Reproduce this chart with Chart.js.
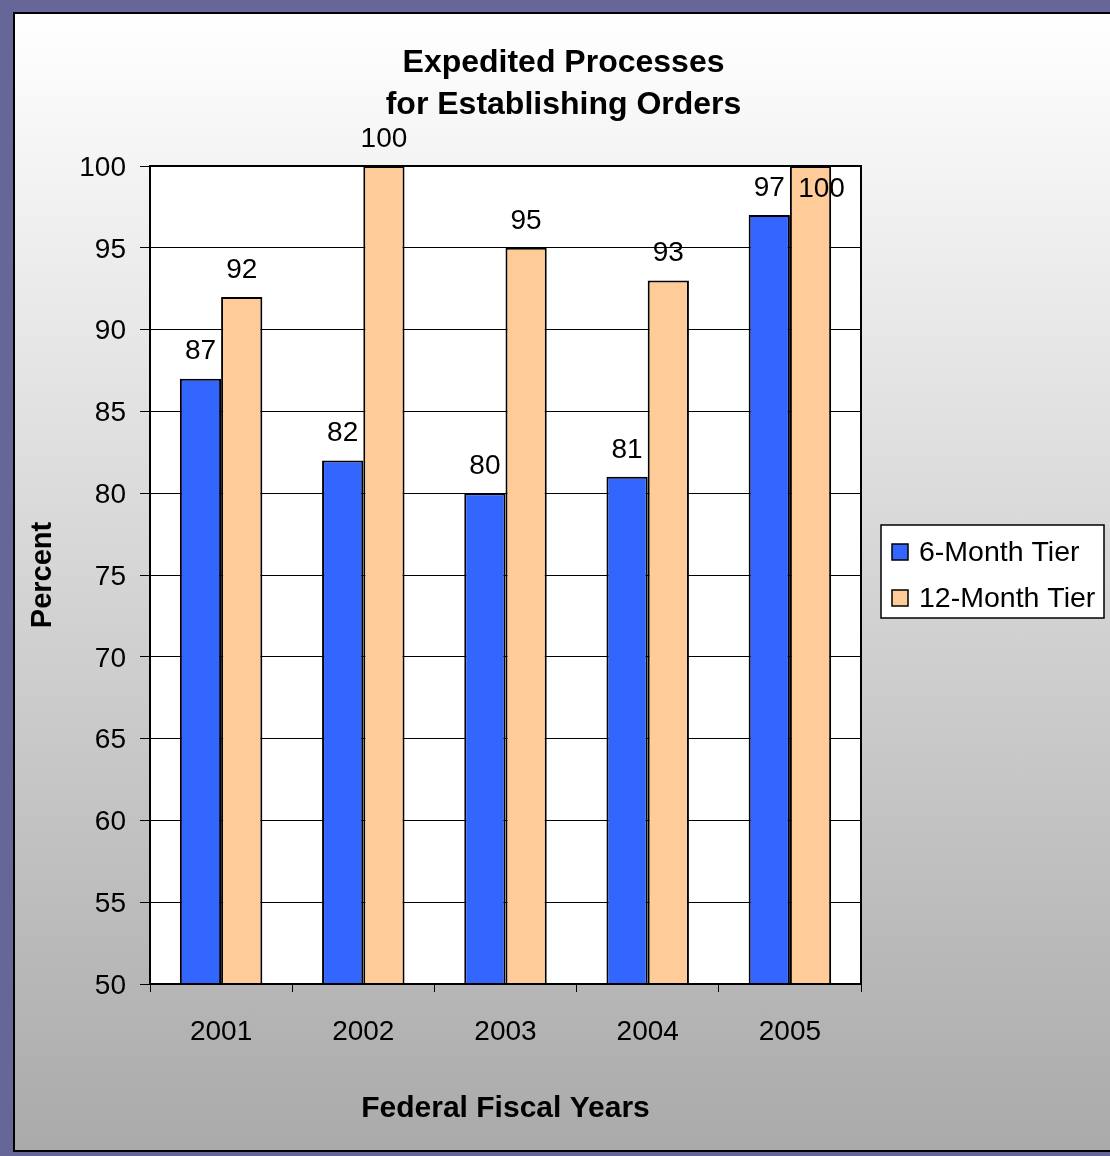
<!DOCTYPE html>
<html>
<head>
<title>Expedited Processes for Establishing Orders</title>
<script src="https://cdn.jsdelivr.net/npm/chart.js"></script>
<style>
  body { margin: 0; background: #666699; }
  #frame {
    position: absolute; left: 13px; top: 12px;
    width: 1097px; height: 1136px;
    border: 2px solid #000; border-right: none;
    background: linear-gradient(#ffffff, #aaaaaa);
  }
  canvas { display: block; }
</style>
</head>
<body>
<div id="frame">
  <canvas id="myChart" width="1097" height="1136"></canvas>
</div>
<script>
const years = ['2001', '2002', '2003', '2004', '2005'];
const sixMonthTier = [87, 82, 80, 81, 97];
const twelveMonthTier = [92, 100, 95, 93, 100];
const percentTicks = [50, 55, 60, 65, 70, 75, 80, 85, 90, 95, 100];
const titleLines = ['Expedited Processes', 'for Establishing Orders'];

Chart.defaults.font.family = '"Liberation Sans", Arial, sans-serif';
Chart.defaults.color = '#000';

// white plot background and the frame around it
const plotFrame = {
  id: 'plotFrame',
  beforeDraw(chart) {
    const {ctx, chartArea: a} = chart;
    ctx.save();
    ctx.fillStyle = '#fff';
    ctx.fillRect(a.left, a.top, a.right - a.left, a.bottom - a.top);
    ctx.restore();
  },
  afterDatasetsDraw(chart) {
    const {ctx, chartArea: a} = chart;
    ctx.save();
    ctx.strokeStyle = '#000';
    ctx.lineWidth = 2;
    ctx.strokeRect(a.left, a.top, a.right - a.left, a.bottom - a.top);
    ctx.restore();
  }
};

// two-line title centred across the whole canvas
const wideTitle = {
  id: 'wideTitle',
  afterDraw(chart) {
    const ctx = chart.ctx;
    ctx.save();
    ctx.font = 'bold 32px "Liberation Sans", Arial, sans-serif';
    ctx.fillStyle = '#000';
    ctx.textAlign = 'center';
    ctx.textBaseline = 'middle';
    titleLines.forEach((line, i) => ctx.fillText(line, chart.width / 2, 49 + i * 42));
    ctx.restore();
  }
};

// value labels above each bar (last peach label sits beside the 97)
const valueLabels = {
  id: 'valueLabels',
  afterDatasetsDraw(chart) {
    const ctx = chart.ctx;
    ctx.save();
    ctx.font = '28px "Liberation Sans", Arial, sans-serif';
    ctx.fillStyle = '#000';
    ctx.textAlign = 'center';
    ctx.textBaseline = 'middle';
    chart.data.datasets.forEach((ds, di) => {
      chart.getDatasetMeta(di).data.forEach((bar, i) => {
        let x = bar.x, y = bar.y - 27;
        if (di === 1 && i === ds.data.length - 1) { x += 11; y += 50; }
        ctx.fillText(String(ds.data[i]), x, y);
      });
    });
    ctx.restore();
  }
};

// boxed legend to the right of the plot
const boxLegend = {
  id: 'boxLegend',
  afterDraw(chart) {
    const ctx = chart.ctx;
    const a = chart.chartArea;
    const left = a.right + 20, top = 511, w = 223, h = 93;
    ctx.save();
    ctx.fillStyle = '#fff';
    ctx.fillRect(left, top, w, h);
    ctx.strokeStyle = '#000';
    ctx.lineWidth = 1.5;
    ctx.strokeRect(left, top, w, h);
    ctx.font = '28.5px "Liberation Sans", Arial, sans-serif';
    ctx.textBaseline = 'middle';
    chart.data.datasets.forEach((ds, i) => {
      const cy = top + 27 + i * 46;
      ctx.fillStyle = ds.backgroundColor;
      ctx.fillRect(left + 11, cy - 8, 16, 16);
      ctx.strokeRect(left + 11, cy - 8, 16, 16);
      ctx.fillStyle = '#000';
      ctx.fillText(ds.label, left + 38, cy + 1);
    });
    ctx.restore();
  }
};

new Chart(document.getElementById('myChart'), {
  type: 'bar',
  data: {
    labels: years,
    datasets: [
      { label: '6-Month Tier', data: sixMonthTier, backgroundColor: '#3366ff',
        borderColor: '#000', borderWidth: 2, borderSkipped: false },
      { label: '12-Month Tier', data: twelveMonthTier, backgroundColor: '#ffcc99',
        borderColor: '#000', borderWidth: 2, borderSkipped: false }
    ]
  },
  options: {
    responsive: false,
    animation: false,
    layout: { padding: { left: 0, right: 251, top: 152, bottom: 0 } },
    datasets: { bar: { categoryPercentage: 0.58, barPercentage: 1 } },
    plugins: {
      legend: { display: false },
      tooltip: { enabled: false },
      title: { display: false }
    },
    scales: {
      x: {
        grid: { drawOnChartArea: false, drawTicks: true, tickLength: 8, color: '#000' },
        border: { color: '#000', width: 2 },
        ticks: { font: { size: 28 }, padding: 23, color: '#000' },
        title: {
          display: true, text: 'Federal Fiscal Years',
          font: { size: 30, weight: 'bold' }, color: '#000',
          padding: { top: 0, bottom: 23 }
        },
        afterFit(axis) { axis.height = 166; }
      },
      y: {
        min: 50, max: 100,
        afterBuildTicks(axis) { axis.ticks = percentTicks.map(v => ({ value: v })); },
        grid: { color: '#000', lineWidth: 1, drawTicks: true, tickLength: 10 },
        border: { color: '#000', width: 2 },
        ticks: { font: { size: 28 }, padding: 14, labelOffset: 2, color: '#000' },
        title: {
          display: true, text: 'Percent',
          font: { size: 29, weight: 'bold' }, color: '#000',
          padding: { top: 11, bottom: 0 }
        },
        afterFit(axis) { axis.width = 135; }
      }
    }
  },
  plugins: [plotFrame, valueLabels, boxLegend, wideTitle]
});
</script>
</body>
</html>
